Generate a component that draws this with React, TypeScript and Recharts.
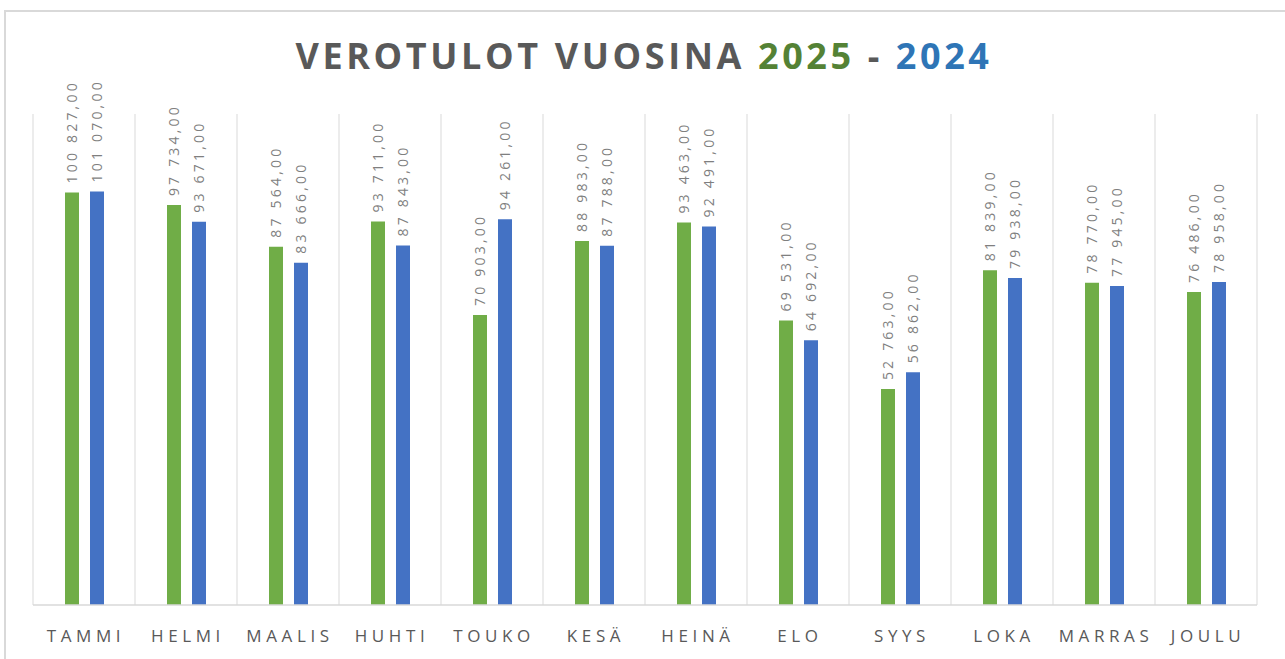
import { BarChart, Bar, XAxis, YAxis, CartesianGrid, LabelList } from 'recharts'

// monthly tax revenue, 2025 vs 2024
const months = ['TAMMI', 'HELMI', 'MAALIS', 'HUHTI', 'TOUKO', 'KESÄ', 'HEINÄ', 'ELO', 'SYYS', 'LOKA', 'MARRAS', 'JOULU']
const taxes2025 = [100827, 97734, 87564, 93711, 70903, 88983, 93463, 69531, 52763, 81839, 78770, 76486]
const taxes2024 = [101070, 93671, 83666, 87843, 94261, 87788, 92491, 64692, 56862, 79938, 77945, 78958]
const yDomain = [0, 120000]

const data = months.map((month, i) => ({ month, y2025: taxes2025[i], y2024: taxes2024[i] }))

const GREEN = '#70ad47'
const BLUE = '#4472c4'
const GRID = '#d9d9d9'

function formatFi(v: number): string {
  const [int, dec] = v.toFixed(2).split('.')
  return int.replace(/\B(?=(\d{3})+(?!\d))/g, ' ') + ',' + dec
}

function ValueLabel(props: any) {
  const { x, y, width, value } = props
  const cx = Number(x) + Number(width) / 2
  const cy = Number(y) - 9
  return (
    <text
      x={cx}
      y={cy}
      transform={`rotate(-90 ${cx} ${cy})`}
      dominantBaseline="central"
      textAnchor="start"
      fill="#7f7f7f"
      fontSize={14}
      letterSpacing={3.2}
      fontFamily="'Open Sans', sans-serif"
    >
      {formatFi(Number(value))}
    </text>
  )
}

function MonthTick(props: any) {
  const { x, y, payload } = props
  return (
    <text
      x={x + 2}
      y={y}
      dy={29}
      textAnchor="middle"
      fill="#595959"
      fontSize={17}
      letterSpacing={4.6}
      fontFamily="'Open Sans', sans-serif"
    >
      {payload.value}
    </text>
  )
}

export default function App() {
  return (
    <div style={{ position: 'fixed', top: 0, left: 0, width: 1285, height: 659, background: '#fff', overflow: 'hidden' }}>
      <div
        style={{
          position: 'absolute',
          left: 4,
          top: 10,
          width: 1320,
          height: 720,
          border: `2px solid ${GRID}`,
          boxSizing: 'border-box',
        }}
      />
      <svg width={1285} height={100} style={{ position: 'absolute', left: 0, top: 0 }}>
        <text
          x={644}
          y={69}
          textAnchor="middle"
          fontFamily="'Open Sans', sans-serif"
          fontWeight={700}
          fontSize={36}
          letterSpacing={3.6}
          fill="#595959"
        >
          VEROTULOT VUOSINA <tspan fill="#548235">2025</tspan> - <tspan fill="#2e75b6">2024</tspan>
        </text>
      </svg>
      <div style={{ position: 'absolute', left: 0, top: 0 }}>
        <BarChart
          width={1285}
          height={659}
          data={data}
          margin={{ top: 114, right: 28, left: 33, bottom: 14 }}
          barSize={14}
          barGap={11}
        >
          <CartesianGrid
            horizontal={false}
            stroke={GRID}
            verticalCoordinatesGenerator={({ offset }: any) =>
              months.map((_, i) => offset.left + (i * offset.width) / months.length).concat(offset.left + offset.width)
            }
          />
          <XAxis
            dataKey="month"
            height={40}
            axisLine={{ stroke: GRID, strokeWidth: 1.5 }}
            tickLine={false}
            tick={<MonthTick />}
            interval={0}
          />
          <YAxis hide domain={yDomain} />
          <Bar dataKey="y2025" name="2025" fill={GREEN} isAnimationActive={false}>
            <LabelList dataKey="y2025" content={<ValueLabel />} />
          </Bar>
          <Bar dataKey="y2024" name="2024" fill={BLUE} isAnimationActive={false}>
            <LabelList dataKey="y2024" content={<ValueLabel />} />
          </Bar>
        </BarChart>
      </div>
    </div>
  )
}
